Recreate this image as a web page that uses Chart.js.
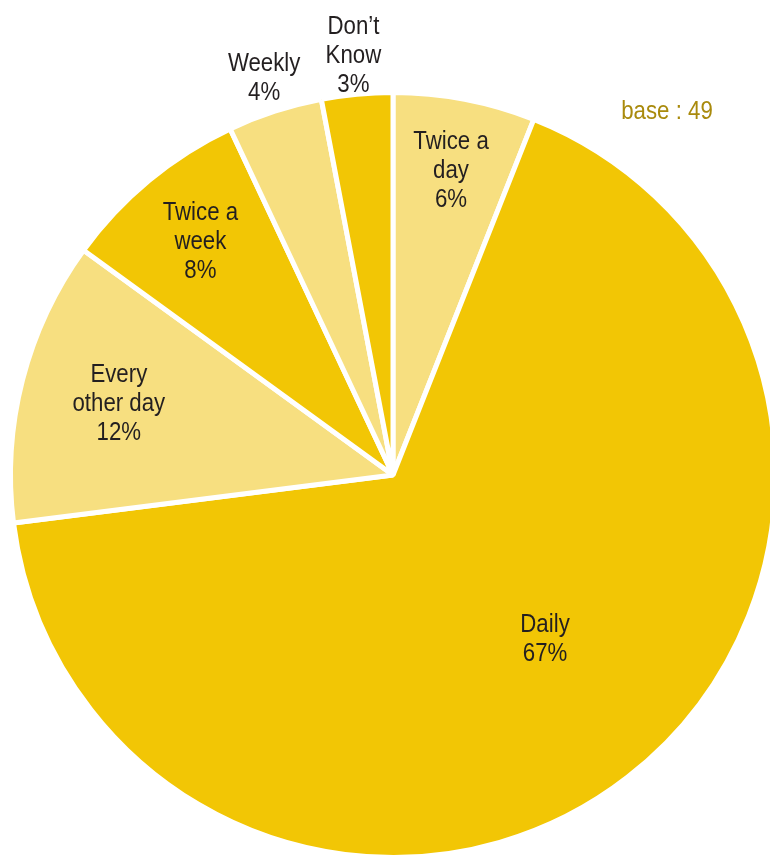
<!DOCTYPE html>
<html>
<head>
<meta charset="utf-8">
<script src="https://cdn.jsdelivr.net/npm/chart.js@4"></script>
<style>
  html, body { margin: 0; padding: 0; background: #fff; overflow: hidden; }
  #wrap { width: 780px; height: 860px; }
</style>
</head>
<body>
<div id="wrap"><canvas id="freqChart" width="780" height="860"></canvas></div>
<script>
// frequency answers, clockwise from 12 o'clock
const categories = ['Twice a day', 'Daily', 'Every other day', 'Twice a week', 'Weekly', 'Don\u2019t Know'];
const labelLines = [['Twice a', 'day'], ['Daily'], ['Every', 'other day'], ['Twice a', 'week'], ['Weekly'], ['Don\u2019t', 'Know']];
const shares = [6, 67, 12, 8, 4, 3];
const baseNote = 'base : 49';

const DARK = '#F2C605';
const LIGHT = '#F7DF80';
const sliceColors = [LIGHT, DARK, LIGHT, DARK, LIGHT, DARK];

// where each label sits: fraction of outer radius, angle nudge in degrees
const labelPlace = [[0.81, 0], [0.585, -5], [0.74, 0], [0.79, 0], [1.09, 0], [1.10, 0]];

const FONT = '"Liberation Sans", Arial, sans-serif';
const NARROW = 0.89; // horizontal squeeze for a condensed look

// centred, horizontally condensed text
function narrowText(ctx, text, x, y) {
    ctx.save();
    ctx.translate(x, y);
    ctx.scale(NARROW, 1);
    ctx.fillText(text, 0, 0);
    ctx.restore();
}

const sliceLabels = {
    id: 'sliceLabels',
    afterDraw(chart) {
        const ctx = chart.ctx;
        const arcs = chart.getDatasetMeta(0).data;
        ctx.save();
        ctx.font = '25px ' + FONT;
        ctx.fillStyle = '#231F20';
        ctx.textAlign = 'center';
        ctx.textBaseline = 'middle';
        const lh = 29;
        arcs.forEach((arc, i) => {
            const p = arc.getProps(['x', 'y', 'startAngle', 'endAngle', 'outerRadius'], true);
            const mid = (p.startAngle + p.endAngle) / 2 + labelPlace[i][1] * Math.PI / 180;
            const r = p.outerRadius * labelPlace[i][0];
            const cx = p.x + Math.cos(mid) * r;
            const cy = p.y + Math.sin(mid) * r;
            const lines = labelLines[i].concat([shares[i] + '%']);
            const top = cy - (lines.length - 1) * lh / 2;
            lines.forEach((t, k) => narrowText(ctx, t, cx, top + k * lh));
        });
        ctx.font = '25px ' + FONT;
        ctx.fillStyle = '#A98A0C';
        narrowText(ctx, baseNote, 667, 112);
        ctx.restore();
    }
};

new Chart(document.getElementById('freqChart'), {
    type: 'pie',
    data: {
        labels: categories,
        datasets: [{
            data: shares,
            backgroundColor: sliceColors,
            borderColor: '#ffffff',
            borderWidth: 5,
            borderJoinStyle: 'bevel'
        }]
    },
    options: {
        responsive: false,
        animation: false,
        layout: { padding: { left: 8, top: 90, right: 2, bottom: 0 } },
        plugins: {
            legend: { display: false },
            tooltip: { enabled: false }
        }
    },
    plugins: [sliceLabels]
});
</script>
</body>
</html>
